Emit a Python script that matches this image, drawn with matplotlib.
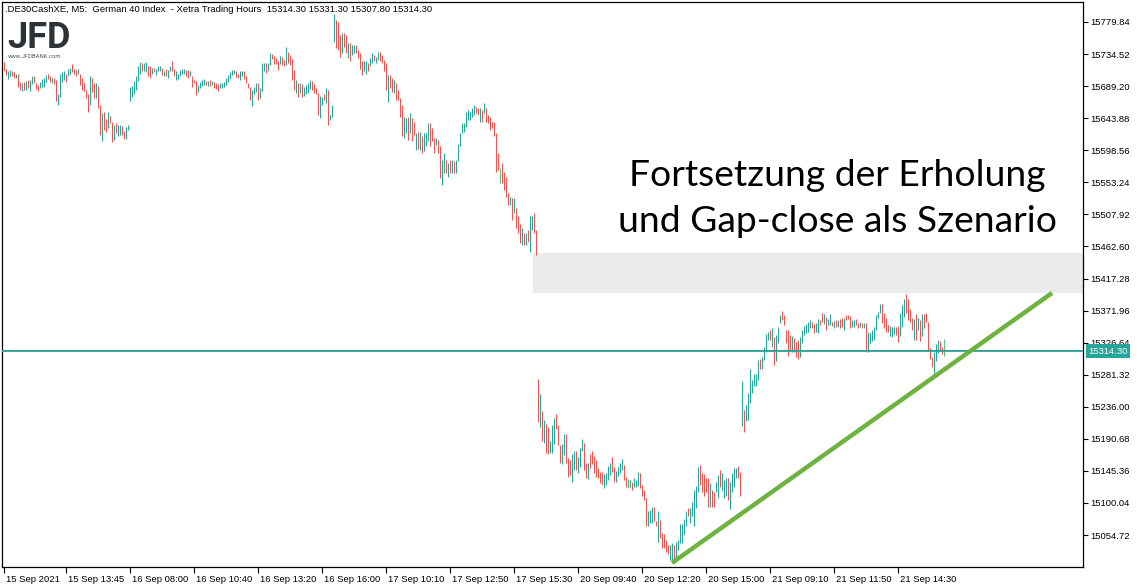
import matplotlib
matplotlib.use("Agg")
import matplotlib.pyplot as plt
import matplotlib.transforms as mtransforms
from matplotlib.patches import Rectangle
import numpy as np

# ---------------- data (M5 bars: high, low, direction u=up d=down n=doji) ----------------
hi_15 = [15723,15714,15710,15712,15710,15709,15707,15706,15695,15693,
         15695,15696,15698,15698,15704,15704,15693,15691,15695,15699,
         15701,15705,15707,15703,15701,15701,15698,15678,15707,15709,
         15711,15706,15714,15715,15720,15714,15712,15714,15707,15700,
         15693,15684,15678,15703,15701,15693,15693,15690,15663,15651,
         15652,15643,15653,15647,15639,15634,15637,15634,15634,15633,
         15626,15632,15634]
lo_15 = [15710,15705,15699,15704,15703,15701,15701,15688,15684,15682,
         15684,15684,15686,15682,15692,15693,15685,15682,15686,15688,
         15688,15695,15699,15695,15693,15692,15668,15663,15674,15695,
         15698,15695,15704,15706,15709,15707,15704,15706,15691,15684,
         15682,15672,15653,15662,15681,15673,15672,15658,15620,15612,
         15627,15624,15630,15637,15610,15613,15623,15618,15620,15620,
         15615,15615,15627]
dir_15 = "dduudduddu" "duduuddduu" "uuddudduuu" "uduudddudd" "dddudduddu" "ddudduduud" "duu"

hi_16 = [15688,15690,15696,15703,15717,15723,15722,15722,15723,15718,
         15717,15715,15715,15714,15718,15717,15715,15711,15714,15712,
         15717,15724,15714,15710,15707,15712,15714,15714,15712,15712,
         15711,15704,15698,15697,15691,15695,15698,15699,15696,15696,
         15698,15697,15695,15693,15692,15693,15693,15695,15700,15705,
         15709,15712,15712,15710,15707,15711,15711,15710,15703,15694,
         15688,15684,15688,15694,15694,15686,15722,15722,15722,15722,
         15736,15735,15732,15729,15724,15732,15731,15726,15745,15738,
         15733,15727,15712,15698,15693,15693,15692,15688,15691,15694,
         15698,15696,15692,15686,15680,15675,15674,15678,15686,15684,
         15648,15663]
lo_16 = [15668,15674,15678,15684,15696,15707,15710,15710,15709,15704,
         15701,15707,15709,15705,15710,15710,15705,15704,15704,15700,
         15711,15710,15703,15698,15699,15703,15706,15707,15703,15700,
         15703,15688,15693,15676,15681,15686,15690,15691,15691,15690,
         15690,15691,15687,15685,15682,15686,15687,15688,15691,15695,
         15699,15705,15706,15702,15700,15698,15703,15699,15693,15686,
         15669,15661,15678,15681,15669,15672,15683,15710,15708,15711,
         15719,15727,15721,15721,15712,15721,15719,15718,15719,15722,
         15719,15698,15684,15680,15674,15679,15674,15675,15678,15680,
         15685,15684,15680,15678,15648,15644,15663,15669,15665,15634,
         15641,15646]
dir_16 = "uuuuuuduud" "duduuududu" "udduuuuudd" "uddduuuudu" "duddduuuuu" "uuu" "dduuddd" \
         "duuuduuudu" "udddduddud" "dddududuuu" "udddduudud" "uu"

hi_17 = [15791,15783,15780,15762,15764,15764,15762,15750,15750,15747,
         15748,15747,15740,15736,15724,15724,15724,15722,15729,15736,
         15733,15731,15738,15738,15733,15726,15722,15705,15705,15700,
         15698,15693,15684,15672,15663,15646,15644,15646,15651,15644,
         15639,15623,15625,15625,15618,15623,15623,15637,15637,15630,
         15616,15616,15613,15604,15585,15594,15585,15580,15585,15585,
         15583,15585,15608,15623,15637,15637,15653,15656,15653,15658,
         15663,15660,15658,15658,15656,15665,15658,15648,15646,15639,
         15639,15623,15594,15573,15580,15568,15561,15538,15533,15531,
         15531,15517,15505,15495,15488,15481,15481,15486,15505,15505,
         15510,15486]
lo_17 = [15752,15743,15740,15731,15736,15745,15736,15729,15724,15733,
         15736,15736,15729,15714,15705,15710,15707,15710,15717,15722,
         15724,15722,15726,15724,15722,15710,15684,15667,15686,15681,
         15679,15670,15670,15646,15618,15616,15623,15613,15623,15611,
         15620,15599,15601,15599,15594,15597,15604,15611,15604,15611,
         15594,15606,15594,15559,15550,15566,15566,15561,15566,15566,
         15566,15566,15583,15604,15623,15625,15632,15641,15641,15646,
         15648,15651,15648,15639,15639,15651,15639,15637,15627,15630,
         15618,15568,15571,15552,15552,15542,15533,15521,15521,15500,
         15510,15488,15481,15467,15465,15465,15465,15469,15455,15486,
         15481,15451]
dir_17 = "uddduddudu" "udddduuduu" "duuddddudd" "udddduudud" "dududuuudd" "dudduududu" \
         "duuuuuuuuu" "uddududddd" "dddnddddud" "udddududuu" "dd"

hi_20 = [15275,15254,15230,15217,15212,15208,15188,15210,15220,15226,
         15210,15182,15184,15198,15198,15163,15161,15169,15173,15173,
         15165,15177,15190,15185,15156,15156,15169,15173,15166,15161,
         15150,15144,15144,15141,15142,15152,15156,15165,15151,15145,
         15151,15156,15162,15154,15137,15134,15133,15130,15135,15133,
         15144,15143,15126,15119,15107,15088,15090,15095,15095,15075,
         15088,15076,15057,15056,15048,15041,15041,15044,15041,15045,
         15048,15070,15070,15077,15088,15093,15093,15102,15118,15124,
         15151,15154,15142,15141,15135,15135,15128,15118,15116,15130,
         15140,15147,15142,15133,15135,15135,15130,15142,15150,15150,
         15152,15144]
lo_20 = [15214,15208,15188,15185,15170,15169,15170,15170,15184,15204,
         15182,15156,15155,15168,15156,15137,15140,15130,15147,15147,
         15143,15151,15173,15147,15135,15134,15149,15155,15142,15137,
         15135,15128,15126,15121,15126,15133,15140,15144,15130,15129,
         15138,15142,15147,15133,15122,15121,15123,15118,15122,15123,
         15124,15121,15110,15104,15068,15068,15071,15071,15074,15068,
         15045,15050,15037,15036,15030,15028,15020,15020,15017,15020,
         15034,15043,15044,15056,15067,15082,15072,15081,15067,15093,
         15116,15126,15116,15110,15116,15095,15095,15095,15095,15116,
         15107,15122,15118,15107,15110,15104,15092,15116,15123,15136,
         15135,15110]
dir_20 = "dududduuud" "dduuddduud" "uuuddudddd" "ddduuuuddu" "uuuddnuduu" "udddduuudd" \
         "uddddduudu" "uuuuuduuuu" "uddddduddu" "uduuuduuuu" "dd"

hi_21 = [15273,15232,15239,15255,15289,15274,15283,15283,15302,15303,
         15307,15321,15339,15342,15344,15347,15335,15337,15349,15366,
         15371,15366,15345,15345,15337,15336,15333,15328,15330,15335,
         15345,15350,15353,15356,15359,15356,15353,15355,15360,15358,
         15368,15367,15363,15360,15367,15356,15357,15358,15359,15360,
         15361,15361,15366,15366,15364,15359,15358,15360,15355,15356,
         15354,15354,15355,15342,15340,15345,15349,15366,15370,15381,
         15381,15368,15361,15352,15350,15349,15349,15349,15350,15368,
         15380,15389,15395,15389,15374,15361,15360,15367,15361,15358,
         15367,15367,15368,15356,15319,15307,15314,15325,15331,15329,
         15321,15331.3]
lo_21 = [15209,15201,15216,15217,15241,15255,15266,15265,15274,15290,
         15290,15302,15314,15330,15330,15321,15295,15300,15326,15354,
         15359,15352,15326,15308,15316,15314,15314,15307,15303,15307,
         15326,15338,15340,15342,15348,15347,15340,15342,15340,15352,
         15356,15353,15345,15352,15352,15350,15348,15349,15349,15347,
         15349,15345,15359,15360,15347,15349,15349,15352,15347,15349,
         15347,15347,15314,15314,15326,15329,15331,15345,15362,15368,
         15354,15347,15341,15341,15336,15334,15339,15338,15327,15336,
         15349,15363,15369,15359,15356,15345,15331,15331,15345,15329,
         15336,15347,15356,15316,15303,15292,15281,15300,15312,15316,
         15311,15307.8]
dir_21 = "uduuuuuuud" "uuuududuuu" "dddddudddu" "uuuuudduud" "duduududud" "duddduuddu" \
         "duduuuuuuu" "dddduuuddu" "uuddddudud" "uddddduuud" "dn"

# x-axis labels (first bar of chart, then every 32 bars)
x_tick_labels = ["15 Sep 2021", "15 Sep 13:45", "16 Sep 08:00", "16 Sep 10:40", "16 Sep 13:20",
                 "16 Sep 16:00", "17 Sep 10:10", "17 Sep 12:50", "17 Sep 15:30", "20 Sep 09:40",
                 "20 Sep 12:20", "20 Sep 15:00", "21 Sep 09:10", "21 Sep 11:50", "21 Sep 14:30"]
x_tick_bars = [0, 31, 63, 95, 127, 159, 191, 223, 255, 287, 319, 351, 383, 415, 447]

y_tick_values = [15054.72, 15100.04, 15145.36, 15190.68, 15236.00, 15281.32, 15326.64,
                 15371.96, 15417.28, 15462.60, 15507.92, 15553.24, 15598.56, 15643.88,
                 15689.20, 15734.52, 15779.84]

last_price = 15314.30
ask_price = 15316.0
gap_low, gap_high = 15396.8, 15453.3     # gap zone (17 Sep close)
gap_start_bar = 264.5
trend_bars = [334, 524]
trend_prices = [15015.2, 15396.8]

header = ".DE30CashXE, M5:  German 40 Index  - Xetra Trading Hours  15314.30 15331.30 15307.80 15314.30"
headline = ["Fortsetzung der Erholung", "und Gap-close als Szenario"]

# ---------------- drawing ----------------
UP, DOWN, DOJI = "#26a69a", "#ef5350", "#5cc07a"
cmap = {"u": UP, "d": DOWN, "n": DOJI}

highs = hi_15 + hi_16 + hi_17 + hi_20 + hi_21
lows = lo_15 + lo_16 + lo_17 + lo_20 + lo_21
dirs = dir_15 + dir_16 + dir_17 + dir_20 + dir_21
n = len(highs)
xs = np.arange(n)

W, H = 1142, 588
fig = plt.figure(figsize=(W / 100, H / 100), dpi=100)
ax = fig.add_axes([2 / W, (H - 567) / H, 1081 / W, 565 / H])

# exactly 2 px per bar, bar centres aligned to whole pixels
ax.set_xlim(-1.0, -1.0 + 1081 / 2)
ax.set_ylim(15009.5, 15808.1)

ax.add_patch(Rectangle((gap_start_bar, gap_low), 600, gap_high - gap_low,
                       facecolor="#ebebeb", edgecolor="none", zorder=0))

ax.vlines(xs, lows, highs, colors=[cmap[c] for c in dirs], linewidth=0.72,
          antialiased=True, zorder=2)

ax.axhline(ask_price, color="#ef5350", lw=0.8, zorder=3)
ax.axhline(last_price, color="#26a69a", lw=1.3, zorder=3)

ax.plot(trend_bars, trend_prices, color="#6cb33f", lw=3.2, solid_capstyle="butt", zorder=4)

for s in ax.spines.values():
    s.set_color("black")
    s.set_linewidth(0.9)

tick_font = "Liberation Sans"
ax.yaxis.tick_right()
ax.set_yticks(y_tick_values)
ax.set_yticklabels([f"{v:.2f}" for v in y_tick_values], family=tick_font, fontsize=6.8)
ax.tick_params(axis="y", direction="out", length=3.5, width=0.8, pad=2)

ax.set_xticks(x_tick_bars)
ax.set_xticklabels(x_tick_labels, family=tick_font, fontsize=6.8)
ax.tick_params(axis="x", direction="out", length=4, width=0.8, pad=1.5)
offset = mtransforms.ScaledTranslation(2 / 100, 0, fig.dpi_scale_trans)
for lab in ax.get_xticklabels():
    lab.set_horizontalalignment("left")
    lab.set_transform(lab.get_transform() + offset)

# current price label
ptrans = mtransforms.blended_transform_factory(ax.transAxes, ax.transData)
ax.text(1.0 + 5 / 1081, last_price, f"{last_price:.2f}", transform=ptrans, ha="left", va="center",
        color="white", family=tick_font, fontsize=6.8, zorder=6, clip_on=False,
        bbox=dict(boxstyle="square,pad=0.25", facecolor="#26a69a", edgecolor="none"))

# header & logo
fig.text(5 / W, 1 - 9.5 / H, header, ha="left", va="center", family=tick_font, fontsize=6.8)
fig.text(7 / W, 1 - 48 / H, "JFD", ha="left", va="baseline", family="Roboto",
         fontweight="bold", fontsize=26, color="#2d3237")
fig.text(8 / W, 1 - 57 / H, "www.JFDBANK.com", ha="left", va="center", family="Roboto",
         fontsize=4.2, color="#555555")

# headline
fig.text(837 / W, 1 - 176 / H, headline[0], ha="center", va="center", family="Lato",
         fontsize=26.8, color="black")
fig.text(837 / W, 1 - 222 / H, headline[1], ha="center", va="center", family="Lato",
         fontsize=26.8, color="black")

fig.savefig("out.png", dpi=100)
